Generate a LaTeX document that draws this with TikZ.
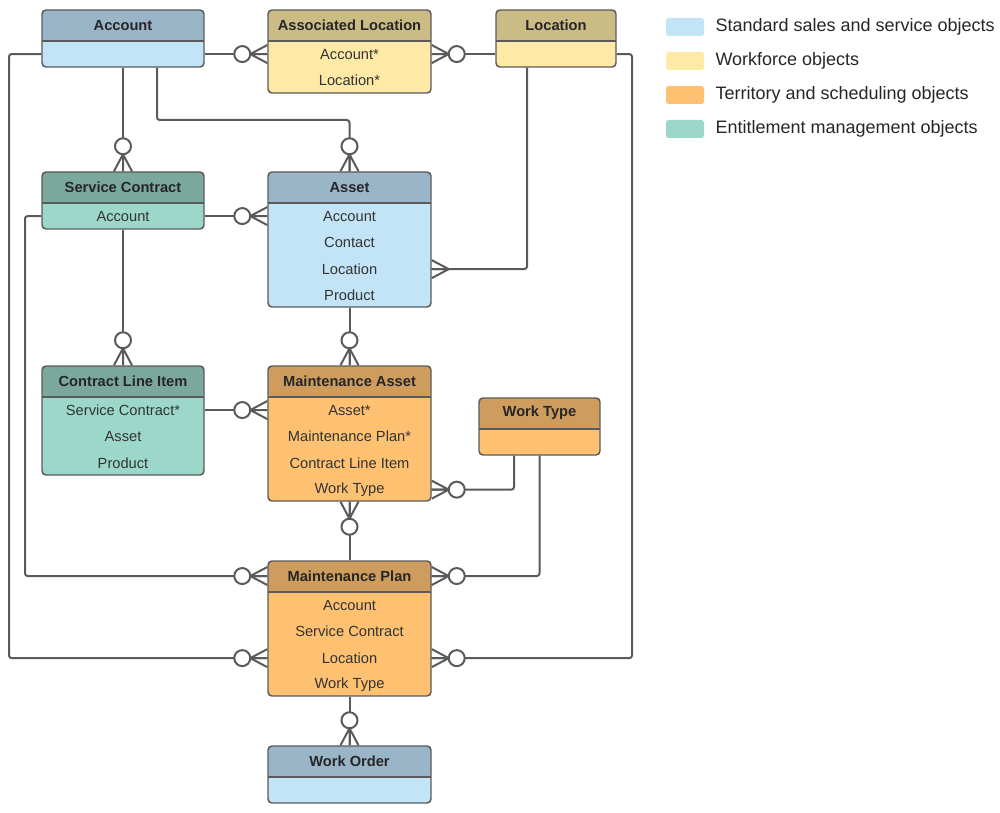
\documentclass[tikz,border=0pt]{standalone}
\usepackage{fontspec}
\setmainfont{Liberation Sans}
\usetikzlibrary{positioning}

\definecolor{edge}{HTML}{5A5A5A}
\definecolor{stdhd}{HTML}{9BB5C8}
\definecolor{stdbd}{HTML}{C3E4F6}
\definecolor{wfhd}{HTML}{CBBC86}
\definecolor{wfbd}{HTML}{FEE9A6}
\definecolor{tshd}{HTML}{CE9D5E}
\definecolor{tsbd}{HTML}{FEC171}
\definecolor{emhd}{HTML}{7BA89D}
\definecolor{embd}{HTML}{9BD8CA}
\definecolor{txt}{HTML}{333333}

\tikzset{
  entity/.style 2 args={draw=edge, line width=1.1pt, rounded corners=3pt, fill=#2, inner sep=0pt,
    path picture={
      \fill[#1] (path picture bounding box.north west) rectangle ([yshift=-23.25pt]path picture bounding box.north east);
      \draw[edge, line width=1.1pt] ([yshift=-23.25pt]path picture bounding box.north west) -- ([yshift=-23.25pt]path picture bounding box.north east);
    }},
  title/.style={font=\fontsize{11}{13}\selectfont\bfseries, text=black!85, minimum height=23.25pt, inner sep=0pt, below=0pt of #1},
  row/.style={font=\fontsize{11}{13}\selectfont, text=txt, minimum height=19.5pt, inner sep=0pt, below=0pt of #1},
  conn/.style={draw=edge, line width=1.5pt, rounded corners=2pt},
  foot/.style={draw=edge, line width=1.5pt},
  many/.pic={\draw[foot] (17,0) -- (0,9) (17,0) -- (0,0) (17,0) -- (0,-9);},
  zmany/.pic={\draw[foot] (17,0) -- (0,9) (17,0) -- (0,0) (17,0) -- (0,-9);
    \draw[foot, fill=white] (25,0) circle[radius=8];},
  swatch/.style={fill=#1, minimum width=28.5pt, minimum height=13.5pt, inner sep=0pt, rounded corners=2pt},
  key/.style={font=\fontsize{13.5}{16}\selectfont, text=black!85, inner sep=0pt, anchor=west},
}

\begin{document}
\begin{tikzpicture}[x=0.75pt, y=-0.75pt]
\useasboundingbox (0,0) rectangle (1000,813);

% objects
\node[entity={stdhd}{stdbd}, minimum width=121.5pt, minimum height=42.75pt] (acc) at (123,38.5) {};
\node[title=acc.north] (acc-t) {Account};
\node[row=acc-t] (acc-r1) {};

\node[entity={wfhd}{wfbd}, minimum width=122.25pt, minimum height=62.25pt] (aloc) at (349.5,51.5) {};
\node[title=aloc.north] (aloc-t) {Associated Location};
\node[row=aloc-t] (aloc-r1) {Account*};
\node[row=aloc-r1] (aloc-r2) {Location*};

\node[entity={wfhd}{wfbd}, minimum width=90pt, minimum height=42.75pt] (loc) at (556,38.5) {};
\node[title=loc.north] (loc-t) {Location};
\node[row=loc-t] (loc-r1) {};

\node[entity={emhd}{embd}, minimum width=121.5pt, minimum height=42.75pt] (sc) at (123,200.5) {};
\node[title=sc.north] (sc-t) {Service Contract};
\node[row=sc-t] (sc-r1) {Account};

\node[entity={stdhd}{stdbd}, minimum width=122.25pt, minimum height=101.25pt] (asset) at (349.5,239.5) {};
\node[title=asset.north] (asset-t) {Asset};
\node[row=asset-t] (asset-r1) {Account};
\node[row=asset-r1] (asset-r2) {Contact};
\node[row=asset-r2] (asset-r3) {Location};
\node[row=asset-r3] (asset-r4) {Product};

\node[entity={emhd}{embd}, minimum width=121.5pt, minimum height=81.75pt] (cli) at (123,420.5) {};
\node[title=cli.north] (cli-t) {Contract Line Item};
\node[row=cli-t] (cli-r1) {Service Contract*};
\node[row=cli-r1] (cli-r2) {Asset};
\node[row=cli-r2] (cli-r3) {Product};

\node[entity={tshd}{tsbd}, minimum width=122.25pt, minimum height=101.25pt] (ma) at (349.5,433.5) {};
\node[title=ma.north] (ma-t) {Maintenance Asset};
\node[row=ma-t] (ma-r1) {Asset*};
\node[row=ma-r1] (ma-r2) {Maintenance Plan*};
\node[row=ma-r2] (ma-r3) {Contract Line Item};
\node[row=ma-r3] (ma-r4) {Work Type};

\node[entity={tshd}{tsbd}, minimum width=90.75pt, minimum height=42.75pt] (wt) at (539.5,426.5) {};
\node[title=wt.north] (wt-t) {Work Type};

\node[entity={tshd}{tsbd}, minimum width=122.25pt, minimum height=101.25pt] (mp) at (349.5,628.5) {};
\node[title=mp.north] (mp-t) {Maintenance Plan};
\node[row=mp-t] (mp-r1) {Account};
\node[row=mp-r1] (mp-r2) {Service Contract};
\node[row=mp-r2] (mp-r3) {Location};
\node[row=mp-r3] (mp-r4) {Work Type};

\node[entity={stdhd}{stdbd}, minimum width=122.25pt, minimum height=42.75pt] (wo) at (349.5,774.5) {};
\node[title=wo.north] (wo-t) {Work Order};

% bends
\coordinate (j1) at (157,120);
\coordinate (j2) at (527,0);
\coordinate (j3) at (514,0);
\coordinate (j4) at (25,0);
\coordinate (j5) at (9,0);
\coordinate (j6) at (632,0);

% relations
\draw[conn] (acc.east |- acc-r1) -- (aloc.west |- aloc-r1);
\draw[conn] (loc.west |- loc-r1) -- (aloc.east |- aloc-r1);
\draw[conn] (acc.south) -- (sc.north);
\draw[conn] (acc.south -| j1) -- (j1) -| (asset.north);
\draw[conn] (sc.east |- sc-r1) -- (asset.west |- sc-r1);
\draw[conn] (loc.south -| j2) |- (asset.east |- asset-r3);
\draw[conn] (sc.south) -- (cli.north);
\draw[conn] (asset.south) -- (ma.north);
\draw[conn] (cli.east |- cli-r1) -- (ma.west |- cli-r1);
\draw[conn] (wt.south -| j3) |- (ma.east |- ma-r4);
\draw[conn] (mp.north) -- (ma.south);
\draw[conn] (sc.west |- sc-r1) -| (j4 |- mp-t) -- (mp.west |- mp-t);
\draw[conn] (wt.south) |- (mp.east |- mp-t);
\draw[conn] (acc.west |- acc-r1) -| (j5 |- mp-r3) -- (mp.west |- mp-r3);
\draw[conn] (loc.east |- loc-r1) -| (j6 |- mp-r3) -- (mp.east |- mp-r3);
\draw[conn] (mp.south) -- (wo.north);

% crow's feet
\pic[rotate=180] at (aloc.west |- aloc-r1) {zmany};
\pic at (aloc.east |- aloc-r1) {zmany};
\pic[rotate=90] at (sc.north) {zmany};
\pic[rotate=90] at (asset.north) {zmany};
\pic[rotate=180] at (asset.west |- sc-r1) {zmany};
\pic at (asset.east |- asset-r3) {many};
\pic[rotate=90] at (cli.north) {zmany};
\pic[rotate=90] at (ma.north) {zmany};
\pic[rotate=180] at (ma.west |- cli-r1) {zmany};
\pic at (ma.east |- ma-r4) {zmany};
\pic[rotate=-90] at (ma.south) {zmany};
\pic[rotate=180] at (mp.west |- mp-t) {zmany};
\pic at (mp.east |- mp-t) {zmany};
\pic[rotate=180] at (mp.west |- mp-r3) {zmany};
\pic at (mp.east |- mp-r3) {zmany};
\pic[rotate=90] at (wo.north) {zmany};

% legend
\node[swatch=stdbd] (k1) at (685,27) {};
\node[key, right=8.25pt of k1] (k1-t) {Standard sales and service objects};
\node[swatch=wfbd] (k2) at (685,61) {};
\node[key, right=8.25pt of k2] (k2-t) {Workforce objects};
\node[swatch=tsbd] (k3) at (685,95) {};
\node[key, right=8.25pt of k3] (k3-t) {Territory and scheduling objects};
\node[swatch=embd] (k4) at (685,129) {};
\node[key, right=8.25pt of k4] (k4-t) {Entitlement management objects};

\end{tikzpicture}
\end{document}
